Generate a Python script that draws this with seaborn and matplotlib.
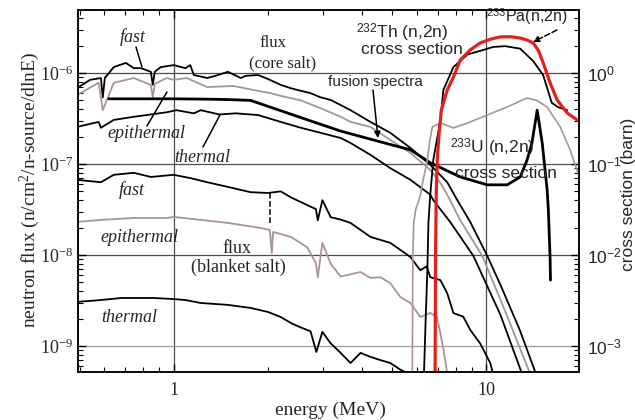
import matplotlib
matplotlib.use('Agg')
import matplotlib.pyplot as plt
import seaborn as sns

# energies (MeV) and flux (n/cm2/n-source/dlnE)
# ---- core salt ----
core_fast_E = [0.49, 0.54, 0.585, 0.593, 0.602, 0.643, 0.703, 0.745, 0.785, 0.845, 0.857, 0.870, 0.909,
               1.0, 1.09, 1.13, 1.16, 1.28, 1.36, 1.49, 1.64, 1.70, 1.86, 2.0, 2.2, 2.37, 2.49, 2.74,
               2.95, 3.18, 3.68, 4.26, 4.93, 5.72, 6.62, 7.5, 8.08, 8.89, 10.07, 11.1, 12.8, 14.4]
core_fast = [6.8e-7, 8.4e-7, 8.8e-7, 5.4e-7, 8.8e-7, 1.16e-6, 1.29e-6, 1.13e-6, 1.13e-6, 1.03e-6, 7.4e-7,
             1.03e-6, 1.16e-6, 1.22e-6, 1.13e-6, 1.22e-6, 9.5e-7, 8.8e-7, 9.3e-7, 1.03e-6, 8.8e-7, 9.3e-7,
             9.5e-7, 8.6e-7, 7.4e-7, 6.8e-7, 6.5e-7, 6.0e-7, 5.4e-7, 5.05e-7, 3.9e-7, 2.9e-7, 2.2e-7,
             1.5e-7, 9.8e-8, 6.3e-8, 4.0e-8, 2.3e-8, 9.8e-9, 4.7e-9, 1.5e-9, 5.0e-10]

core_epi_E = [0.49, 0.575, 0.593, 0.643, 0.745, 0.845, 0.857, 0.870, 0.95, 1.0, 1.10, 1.28, 1.55, 1.8,
              2.04, 2.2, 2.55, 2.95, 3.42, 3.68, 4.26, 4.93, 5.72, 6.62, 7.13, 7.5, 8.26, 9.71, 11.5, 13.8]
core_epi = [5.7e-7, 7.8e-7, 3.9e-7, 7.8e-7, 8.8e-7, 7.4e-7, 5.4e-7, 7.6e-7, 8.8e-7, 8.4e-7, 8.8e-7, 7.0e-7,
            7.2e-7, 6.5e-7, 6.0e-7, 5.6e-7, 5.0e-7, 4.1e-7, 3.3e-7, 2.9e-7, 2.55e-7, 1.84e-7, 1.32e-7,
            8.6e-8, 6.2e-8, 4.6e-8, 2.4e-8, 9.8e-9, 2.4e-9, 5.0e-10]

core_th_E = [0.49, 0.575, 0.585, 0.643, 0.745, 0.95, 1.02, 1.16, 1.22, 1.40, 1.58, 1.86, 2.2, 2.55, 2.95,
             3.42, 3.68, 4.26, 4.93, 5.72, 6.62, 6.77, 7.67, 9.09, 11.1, 13.0]
core_th = [2.55e-7, 2.9e-7, 2.5e-7, 3.05e-7, 3.3e-7, 3.7e-7, 3.9e-7, 3.6e-7, 3.9e-7, 3.5e-7, 3.6e-7, 3.45e-7,
           2.9e-7, 2.5e-7, 2.2e-7, 1.93e-7, 1.7e-7, 1.26e-7, 9.0e-8, 6.7e-8, 4.6e-8, 4.0e-8, 2.3e-8,
           9.8e-9, 2.2e-9, 5.0e-10]

fusion_E = [0.62, 0.8, 1.0, 1.3, 1.5, 1.76, 2.2, 2.8, 3.42, 4.585, 5.72, 6.62, 8.26, 10.07, 11.67, 12.84,
            13.5, 14.0, 14.55, 15.1, 15.66, 15.8, 16.0, 16.05]
fusion = [5.2e-7, 5.2e-7, 5.2e-7, 5.15e-7, 5.1e-7, 5.0e-7, 3.85e-7, 2.9e-7, 2.3e-7, 1.75e-7, 1.43e-7, 1.03e-7,
          7.2e-8, 5.9e-8, 5.9e-8, 7.2e-8, 1.1e-7, 1.7e-7, 3.9e-7, 1.7e-7, 5.2e-8, 3.1e-8, 9.5e-9, 5.3e-9]

# ---- blanket salt ----
blk_fast_E = [0.49, 0.585, 0.643, 0.745, 0.845, 1.0, 1.13, 1.28, 1.49, 1.76, 2.0, 2.2, 2.37, 2.74, 2.85,
              2.89, 2.99, 3.18, 3.42, 3.68, 4.26, 4.93, 5.72, 6.15, 6.45, 6.62, 7.13, 7.5, 7.85, 8.44,
              8.89, 9.57, 10.3, 10.5]
blk_fast = [6.7e-8, 6.3e-8, 7.6e-8, 8.0e-8, 7.2e-8, 7.6e-8, 7.0e-8, 6.3e-8, 5.6e-8, 4.9e-8, 4.8e-8, 5.0e-8,
            4.3e-8, 3.4e-8, 3.2e-8, 2.4e-8, 4.0e-8, 2.6e-8, 2.45e-8, 2.25e-8, 1.58e-8, 1.36e-8, 9.5e-9,
            6.8e-9, 7.5e-9, 5.7e-9, 5.3e-9, 3.8e-9, 2.3e-9, 2.1e-9, 1.5e-9, 1.06e-9, 6.5e-10, 5.0e-10]
blk_dip_E = [2.04, 2.04]
blk_dip = [4.8e-8, 2.2e-8]

blk_epi_E = [0.49, 0.585, 0.745, 0.95, 1.0, 1.22, 1.49, 1.9, 2.03, 2.06, 2.08, 2.37, 2.67, 2.85, 2.89,
             2.99, 3.18, 3.42, 3.96, 4.26, 4.585, 4.93, 5.31, 5.72, 6.15, 6.62, 6.95, 7.13, 7.3, 7.5]
blk_epi = [2.31e-8, 2.43e-8, 2.55e-8, 2.55e-8, 2.62e-8, 2.43e-8, 2.25e-8, 1.98e-8, 1.88e-8, 1.05e-8, 1.79e-8,
           1.58e-8, 1.22e-8, 8.2e-9, 5.7e-9, 1.36e-8, 8.0e-9, 5.8e-9, 6.5e-9, 5.6e-9, 5.7e-9, 4.9e-9,
           3.45e-9, 2.97e-9, 2.08e-9, 2.31e-9, 2.08e-9, 1.39e-9, 9.0e-10, 5.0e-10]

blk_th_E = [0.49, 0.585, 0.68, 0.86, 1.0, 1.09, 1.22, 1.49, 1.76, 2.0, 2.2, 2.4, 2.55, 2.74, 2.86, 2.99,
            3.17, 3.42, 3.68, 3.96, 4.26, 4.585, 4.93, 5.31, 5.6]
blk_th = [3.05e-9, 3.2e-9, 3.37e-9, 3.37e-9, 3.28e-9, 3.2e-9, 2.97e-9, 2.83e-9, 2.62e-9, 2.37e-9, 2.08e-9,
          1.75e-9, 1.6e-9, 1.45e-9, 8.6e-10, 1.43e-9, 1.08e-9, 8.4e-10, 6.5e-10, 8.4e-10, 7.6e-10,
          7.0e-10, 6.5e-10, 5.5e-10, 5.0e-10]

# ---- (n,2n) cross sections, barn (right axis) ----
pa_E = [6.86, 6.88, 6.92, 6.97, 7.05, 7.18, 7.5, 7.85, 8.26, 8.9, 9.57, 10.3, 11.08, 12.0, 12.84, 13.5,
        14.13, 14.7, 15.21, 16.0, 16.86, 18.15, 19.53, 20.5]
pa_xs = [5.0e-4, 0.01, 0.05, 0.11, 0.2, 0.39, 0.65, 0.9, 1.39, 1.8, 2.14, 2.35, 2.49, 2.5, 2.42, 2.3,
         2.14, 1.75, 1.29, 0.78, 0.505, 0.363, 0.305, 0.28]

th_E = [6.32, 6.4, 6.48, 6.53, 6.62, 6.77, 7.13, 7.29, 7.85, 8.72, 9.57, 10.5, 11.5, 12.84, 14.13, 15.2,
        15.8, 16.2, 17.0, 18.15]
th_xs = [5.0e-4, 2e-3, 6.8e-3, 0.0225, 0.046, 0.111, 0.3, 0.65, 1.16, 1.6, 1.75, 1.93, 1.97, 1.85, 1.35,
         0.95, 0.62, 0.47, 0.42, 0.39]

u_E = [5.80, 5.82, 5.86, 5.95, 6.06, 6.15, 6.3, 6.48, 6.6, 6.72, 7.13, 7.85, 8.72, 10.07, 11.67, 13.5,
       14.5, 15.66, 17.24, 18.55, 19.5, 20.5]
u_xs = [5.0e-4, 0.0095, 0.0225, 0.032, 0.038, 0.045, 0.07, 0.111, 0.18, 0.255, 0.282, 0.249, 0.282,
        0.345, 0.423, 0.531, 0.5, 0.423, 0.255, 0.143, 0.086, 0.06]

x_ticks = [1, 10]
x_tick_labels = ['1', '10']
flux_ticks = [1e-9, 1e-8, 1e-7, 1e-6]
flux_tick_labels = [r'$\mathrm{10^{-9}}$', r'$\mathrm{10^{-8}}$', r'$\mathrm{10^{-7}}$', r'$\mathrm{10^{-6}}$']
xs_ticks = [1e-3, 1e-2, 1e-1, 1]
xs_tick_labels = [r'$\mathsf{10^{-3}}$', r'$\mathsf{10^{-2}}$', r'$\mathsf{10^{-1}}$', r'$\mathsf{10^{0}}$']

sns.set_style('ticks')
plt.rcParams['font.family'] = ['Liberation Serif', 'DejaVu Serif']
plt.rcParams['mathtext.fontset'] = 'custom'
plt.rcParams['mathtext.rm'] = 'Liberation Serif'
plt.rcParams['mathtext.it'] = 'Liberation Serif:italic'
plt.rcParams['mathtext.sf'] = 'Liberation Sans'

SANS = ['Liberation Sans', 'DejaVu Sans']
GRAY = '#a89494'
RED = '#e3201b'

fig = plt.figure(figsize=(6.35, 4.2), dpi=100)
ax = fig.add_axes([0.1228, 0.1143, 0.789, 0.8619])
ax.set_xscale('log')
ax.set_yscale('log')
ax2 = ax.twinx()
ax2.set_yscale('log')

def line(a, x, y, color='k', lw=1.3, ls='-'):
    sns.lineplot(x=x, y=y, ax=a, color=color, lw=lw, ls=ls, sort=False, estimator=None)

# flux curves
line(ax, core_fast_E, core_fast)
line(ax, core_epi_E, core_epi, color=GRAY, lw=1.3)
line(ax, core_th_E, core_th)
line(ax, fusion_E, fusion, lw=2.0)
line(ax, blk_fast_E, blk_fast)
line(ax, blk_dip_E, blk_dip, lw=1.1, ls='--')
line(ax, blk_epi_E, blk_epi, color=GRAY, lw=1.3)
line(ax, blk_th_E, blk_th)

# cross sections
line(ax2, u_E, u_xs, color=GRAY, lw=1.2)
line(ax2, th_E, th_xs, lw=1.3)
line(ax2, pa_E, pa_xs, color=RED, lw=2.3)

ax.set_xlim(0.494, 19.8)
ax.set_ylim(5.18e-10, 4.92e-6)
ax2.set_ylim(5.18e-4, 4.92)

ax.set_xticks(x_ticks)
ax.set_xticklabels(x_tick_labels, fontsize=13)
ax.xaxis.set_minor_formatter(plt.NullFormatter())
ax.set_yticks(flux_ticks)
ax.set_yticklabels(flux_tick_labels, fontsize=13)
ax.yaxis.set_minor_formatter(plt.NullFormatter())
ax2.set_yticks(xs_ticks)
ax2.set_yticklabels(xs_tick_labels, fontsize=12.5)
ax2.yaxis.set_minor_formatter(plt.NullFormatter())

ax.tick_params(which='both', direction='in', top=True, right=False, color='k')
ax.tick_params(which='major', length=6, width=1)
ax.tick_params(which='minor', length=3.5, width=0.8)
ax.tick_params(axis='x', pad=7)
ax2.tick_params(which='both', direction='in', right=True, color='k')
ax2.tick_params(which='major', length=6, width=1, pad=6)
ax2.tick_params(which='minor', length=3.5, width=0.8)
ax.set_xlabel('')
ax.set_ylabel('')
ax2.set_ylabel('')

ax.set_axisbelow(True)
ax.grid(True, which='major', color='0.3', lw=0.9)
ax.grid(False, which='minor')
ax.yaxis.get_major_ticks()[0].gridline.set_color('0.62')

for a in (ax, ax2):
    for s in a.spines.values():
        s.set_color('k')
        s.set_linewidth(1.1)

# labels
fig.text(330 / 635, 1 - 410 / 420, 'energy (MeV)', ha='center', va='center', fontsize=14)
fig.text(30 / 635, 1 - 190 / 420, r'neutron flux (n/cm$^2$/n-source/dlnE)', ha='center', va='center',
         rotation=90, fontsize=14)
fig.text(629 / 635, 1 - 194 / 420, 'cross section (barn)', ha='center', va='center', rotation=90,
         fontsize=12.5, family=SANS)

# annotations (axes fraction)
def txt(x, y, s, **kw):
    ax.text(x, y, s, transform=ax.transAxes, ha='center', va='center', **kw)

def lead(p0, p1, style='-', ls='-'):
    ax.annotate('', xy=p1, xytext=p0, xycoords='axes fraction', textcoords='axes fraction',
                arrowprops=dict(arrowstyle=style, color='k', lw=1.1, ls=ls, mutation_scale=9,
                                shrinkA=0, shrinkB=0))

txt(0.1098, 0.9254, 'fast', style='italic', fontsize=13)
lead((0.1158, 0.8978), (0.1277, 0.8425))
txt(0.1357, 0.6602, 'epithermal', style='italic', fontsize=13)
lead((0.1377, 0.6796), (0.1776, 0.7735))
txt(0.2475, 0.5939, 'thermal', style='italic', fontsize=13)
lead((0.2495, 0.6215), (0.2834, 0.7099))
txt(0.3892, 0.9088, 'flux', fontsize=12)
txt(0.4092, 0.8536, '(core salt)', fontsize=12)

txt(0.5928, 0.8011, 'fusion spectra', fontsize=11, family=SANS)
lead((0.5888, 0.7790), (0.5988, 0.6464), style='-|>')

txt(0.6467, 0.9365, r'$^{\mathsf{232}}$Th (n,2n)', fontsize=12.5, family=SANS)
txt(0.6667, 0.8895, 'cross section', fontsize=12.5, family=SANS)
txt(0.8962, 0.9807, r'$^{\mathsf{233}}$Pa(n,2n)', fontsize=11.5, family=SANS)
lead((0.9561, 0.9448), (0.9082, 0.9116), style='-|>', ls='--')
txt(0.8263, 0.6188, r'$^{\mathsf{233}}$U (n,2n)', fontsize=12.5, family=SANS)
txt(0.8543, 0.5497, 'cross section', fontsize=12.5, family=SANS)

txt(0.1078, 0.5028, 'fast', style='italic', fontsize=13)
txt(0.1218, 0.3729, 'epithermal', style='italic', fontsize=13)
txt(0.1018, 0.1519, 'thermal', style='italic', fontsize=13)
txt(0.3174, 0.3425, 'flux', fontsize=13)
txt(0.3194, 0.2901, '(blanket salt)', fontsize=13)

fig.savefig('out.png', dpi=100)
